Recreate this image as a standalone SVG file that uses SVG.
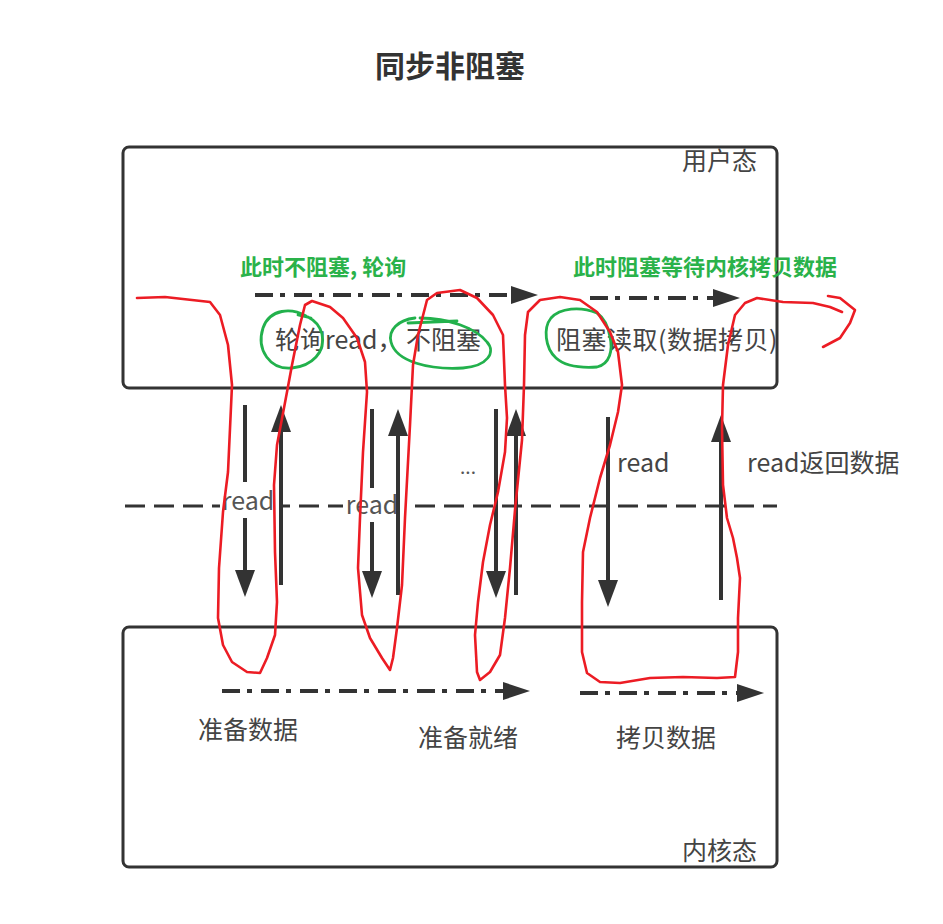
<svg xmlns="http://www.w3.org/2000/svg" width="943" height="924" viewBox="0 0 943 924">
<style>
text{font-family:"Noto Sans CJK SC","Noto Sans",sans-serif;fill:#333}
.t{font-size:25px;fill:#444}
.g{font-size:22px;font-weight:bold;fill:#2ab24a}
.box{fill:#fff;stroke:#333;stroke-width:3}
.v{stroke:#333;stroke-width:4;fill:none}
.dd{stroke:#333;stroke-width:4;fill:none;stroke-dasharray:18 7 5 9}
.red{stroke:#ec1c24;stroke-width:2.6;fill:none;stroke-linejoin:round;stroke-linecap:round}
.grn{stroke:#22b14c;stroke-width:2.8;fill:none;stroke-linejoin:round;stroke-linecap:round}
</style>
<defs>
<marker id="ah" markerUnits="userSpaceOnUse" markerWidth="27" markerHeight="20" refX="0" refY="10" orient="auto" overflow="visible">
<path d="M0,0 L27,10 L0,20 Z" fill="#333"/>
</marker>
<marker id="ahs" markerUnits="userSpaceOnUse" markerWidth="27" markerHeight="18" refX="0" refY="9" orient="auto" overflow="visible">
<path d="M0,0 L27,9 L0,18 Z" fill="#333"/>
</marker>
</defs>
<rect width="943" height="924" fill="#fff"/>
<text x="450" y="77" text-anchor="middle" style="font-size:30px;font-weight:bold">同步非阻塞</text>
<g id="user-space">
<rect class="box" x="123" y="147" width="654" height="241" rx="6"/>
<text class="t" x="757" y="170" text-anchor="end">用户态</text>
</g>
<g id="kernel-space">
<rect class="box" x="123" y="627" width="654" height="240" rx="6"/>
<text class="t" x="757" y="860" text-anchor="end">内核态</text>
</g>
<g id="divider">
<line x1="125" y1="506" x2="777" y2="506" stroke="#333" stroke-width="3" stroke-dasharray="20 9"/>
</g>
<g id="connectors">
<line class="v" x1="245" y1="405" x2="245" y2="570" marker-end="url(#ah)"/>
<line class="v" x1="372" y1="409" x2="372" y2="571" marker-end="url(#ah)"/>
<line class="v" x1="496" y1="409" x2="496" y2="571" marker-end="url(#ah)"/>
<line class="v" x1="608" y1="417" x2="608" y2="580" marker-end="url(#ah)"/>
<rect x="220" y="482" width="60" height="36" fill="#fff"/>
<text class="t" x="248" y="510" text-anchor="middle" style="fill:#555">read</text>
<rect x="343" y="488" width="64" height="34" fill="#fff"/>
<text class="t" x="372" y="514" text-anchor="middle" style="fill:#555">read</text>
<line class="v" x1="281" y1="585" x2="281" y2="432" marker-end="url(#ah)"/>
<line class="v" x1="398" y1="595" x2="398" y2="436" marker-end="url(#ah)"/>
<line class="v" x1="516" y1="595" x2="516" y2="436" marker-end="url(#ah)"/>
<line class="v" x1="721" y1="600" x2="721" y2="442" marker-end="url(#ah)"/>
<line class="dd" x1="255" y1="295" x2="511" y2="295" marker-end="url(#ahs)"/>
<line class="dd" x1="590" y1="298" x2="713" y2="298" marker-end="url(#ahs)"/>
<line class="dd" x1="222" y1="691" x2="503" y2="691" marker-end="url(#ahs)"/>
<line class="dd" x1="580" y1="693" x2="737" y2="693" marker-end="url(#ahs)"/>
</g>
<g id="labels">
<text x="468" y="474" text-anchor="middle" style="font-size:19px;fill:#555">...</text>
<text class="t" x="617" y="472">read</text>
<text class="t" x="747" y="472">read返回数据</text>
<text class="t" x="275" y="349">轮询read，<tspan x="406">不阻塞</tspan></text>
<text class="t" x="556" y="349" style="letter-spacing:0.5px">阻塞读取(数据拷贝)</text>
<text class="t" x="198" y="739">准备数据</text>
<text class="t" x="418" y="747">准备就绪</text>
<text class="t" x="616" y="747">拷贝数据</text>
<text class="g" x="240" y="275">此时不阻塞, 轮询</text>
<text class="g" x="573" y="275">此时阻塞等待内核拷贝数据</text>
</g>
<g id="annotations">
<path class="grn" d="M298,315 L311,318 M306,316 C292,308 270,308 263,328 C256,350 270,370 292,368 C312,366 326,352 322,334 C320,326 316,321 308,317"/>
<path class="grn" d="M408,323 L457,321 M415,318 C398,320 388,330 391,342 C396,362 430,370 463,368 C488,366 496,352 487,342 C476,328 448,318 420,318"/>
<path class="grn" d="M597,313 C580,306 560,308 551,318 C543,328 545,348 556,358 C566,367 582,368 597,367 C610,364 613,350 610,337 C608,325 604,318 597,313"/>
<polyline class="red" points="137,298 165,297 210,302 220,315 228,345 232,385 228,472 223,512 219,568 218,618 223,645 232,662 247,672 260,673 267,658 275,635 277,602 275,552 274,485 277,445 287,392 292,365 300,325 305,305 312,301 330,307 343,318 357,338 365,362 367,392 363,452 360,518 358,568 362,615 370,638 382,658 390,670 393,658 397,628 402,585 405,518 410,425 413,365 418,335 427,300 437,293 460,290 477,298 493,315 503,335 505,385 507,418 505,452 498,492 490,525 483,562 478,602 475,635 477,672 480,680 490,672 500,655 505,618 510,568 515,510 522,440 524,385 525,335 528,312 540,300 560,297 580,300 597,312 610,332 618,352 622,385 618,412 610,445 600,478 590,518 583,552 582,602 582,652 587,673 600,682 620,683 650,678 683,677 717,678 735,677 738,652 738,618 740,578 737,558 733,538 727,518 723,485 722,428 723,385 728,345 735,315 745,303 757,298 783,302 813,303 830,307 842,312"/>
<polyline class="red" points="828,296 840,298 855,310 850,323 840,338 823,347"/>
</g>
</svg>
